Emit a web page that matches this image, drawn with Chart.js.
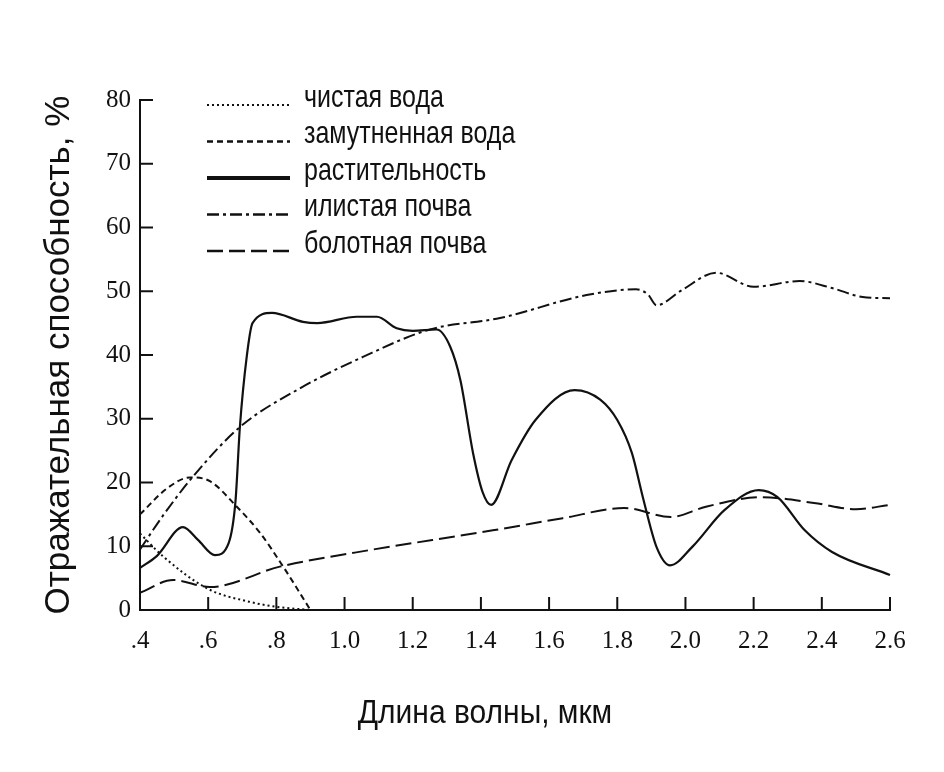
<!DOCTYPE html>
<html>
<head>
<meta charset="utf-8">
<script src="https://cdn.jsdelivr.net/npm/chart.js@4.4.1/dist/chart.umd.min.js"></script>
<style>
html,body{margin:0;padding:0;background:#fff;}
#wrap{width:944px;height:772px;position:relative;}
</style>
</head>
<body>
<div id="wrap"><canvas id="c" width="944" height="772"></canvas></div>
<script>
// ---- data ----
const xTicks = [0.4,0.6,0.8,1.0,1.2,1.4,1.6,1.8,2.0,2.2,2.4,2.6];
const xTickLabels = ['.4','.6','.8','1.0','1.2','1.4','1.6','1.8','2.0','2.2','2.4','2.6'];
const yTicks = [0,10,20,30,40,50,60,70,80];

const seriesNames = ['чистая вода','замутненная вода','растительность','илистая почва','болотная почва'];

const cleanWaterX = [0.40,0.47,0.60,0.72,0.80,0.90];
const cleanWaterY = [12.0,8.3,3.3,1.3,0.5,0.0];

const turbidWaterX = [0.40,0.48,0.547,0.605,0.684,0.752,0.82,0.90];
const turbidWaterY = [15.0,19.1,20.8,20.2,16.2,12.1,6.8,0.0];

const vegetationX = [0.40,0.45,0.526,0.57,0.62,0.66,0.68,0.693,0.713,0.73,0.787,0.878,0.92,1.036,1.095,1.153,1.20,1.27,1.31,1.34,1.377,1.405,1.43,1.49,1.56,1.675,1.75,1.80,1.843,1.875,1.915,1.955,2.02,2.115,2.215,2.27,2.35,2.43,2.60];
const vegetationY = [6.6,8.5,13.0,11.0,8.6,10.5,17.0,28.7,39.7,45.0,46.6,45.2,45.0,46.0,46.0,44.2,43.8,44.0,41.3,36.0,24.6,18.5,16.5,23.5,29.8,34.5,33.0,29.8,24.6,17.7,9.9,7.0,9.9,15.7,18.8,17.7,12.5,9.1,5.5];

const siltSoilX = [0.40,0.47,0.555,0.693,0.86,1.054,1.25,1.456,1.71,1.855,1.89,1.915,1.99,2.09,2.20,2.335,2.43,2.52,2.60];
const siltSoilY = [9.5,15.0,20.9,28.7,34.5,39.7,44.0,45.8,49.4,50.3,49.5,47.8,50.2,52.9,50.7,51.6,50.5,49.1,48.9];

const swampSoilX = [0.40,0.497,0.605,0.81,1.03,1.435,1.64,1.82,1.957,2.06,2.22,2.377,2.50,2.60];
const swampSoilY = [2.7,4.7,3.6,6.8,9.0,12.5,14.4,16.0,14.6,16.2,17.7,16.8,15.8,16.5];

const xTitle = 'Длина волны, мкм';
const yTitle = 'Отражательная способность, %';

// ---- build ----
function pts(xs, ys){ return xs.map((x,i)=>({x:x,y:ys[i]})); }
const styles = [
  {dash:[2,3], width:2, legendWidth:2},
  {dash:[6,4], width:2, legendWidth:2.5},
  {dash:[], width:2.2, legendWidth:4},
  {dash:[12,4,3,4], width:2, legendWidth:2.5},
  {dash:[16,6], width:2, legendWidth:2.5}
];
const dataPairs = [[cleanWaterX,cleanWaterY],[turbidWaterX,turbidWaterY],[vegetationX,vegetationY],[siltSoilX,siltSoilY],[swampSoilX,swampSoilY]];
const datasets = dataPairs.map((p,i)=>({
  label: seriesNames[i],
  data: pts(p[0],p[1]),
  borderColor:'#111',
  borderWidth: styles[i].width,
  borderDash: styles[i].dash,
  pointRadius:0,
  fill:false,
  cubicInterpolationMode:'monotone',
  clip:false
}));

const insideTicks = {
  id:'insideTicks',
  afterDraw(chart){
    const ctx = chart.ctx, xs = chart.scales.x, ys = chart.scales.y;
    ctx.save();
    ctx.strokeStyle='#111'; ctx.lineWidth=2; ctx.setLineDash([]);
    xTicks.forEach(v=>{
      const px = xs.getPixelForValue(v);
      ctx.beginPath(); ctx.moveTo(px, ys.bottom); ctx.lineTo(px, ys.bottom-13); ctx.stroke();
    });
    yTicks.forEach(v=>{
      const py = ys.getPixelForValue(v);
      ctx.beginPath(); ctx.moveTo(xs.left, py); ctx.lineTo(xs.left+13, py); ctx.stroke();
    });
    ctx.restore();
  }
};

const customLegend = {
  id:'customLegend',
  afterDraw(chart){
    const ctx = chart.ctx;
    ctx.save();
    ctx.fillStyle='#111';
    ctx.font = '25px "Liberation Sans", Arial, sans-serif';
    ctx.textBaseline='middle';
    ctx.textAlign='left';
    chart.data.datasets.forEach((ds,i)=>{
      const ty = 98 + i*36.5;
      const ly = ty + 7;
      ctx.strokeStyle='#111';
      ctx.lineWidth = styles[i].legendWidth;
      ctx.setLineDash(styles[i].dash);
      ctx.beginPath(); ctx.moveTo(207, ly); ctx.lineTo(290, ly); ctx.stroke();
      ctx.setLineDash([]);
      ctx.save();
      ctx.translate(304, ty);
      ctx.scale(1, 1.28);
      ctx.fillText(ds.label, 0, 0);
      ctx.restore();
    });
    // x axis title
    ctx.save();
    ctx.font = '30px "Liberation Sans", Arial, sans-serif';
    ctx.textAlign='center';
    ctx.textBaseline='middle';
    ctx.translate(485, 714);
    ctx.scale(1, 1.12);
    ctx.fillText(xTitle, 0, 0);
    ctx.restore();
    ctx.restore();
  }
};

new Chart(document.getElementById('c'), {
  type:'line',
  data:{datasets:datasets},
  options:{
    responsive:false,
    animation:false,
    layout:{padding:{left:38, right:54, top:100, bottom:40}},
    plugins:{legend:{display:false}, tooltip:{enabled:false}},
    scales:{
      x:{
        type:'linear', min:0.4, max:2.6,
        afterBuildTicks(s){ s.ticks = xTicks.map(v=>({value:v})); },
        afterFit(s){ s.height = 122; },
        grid:{display:false, drawTicks:false},
        border:{display:true, color:'#111', width:2},
        ticks:{
          color:'#111', padding:16, maxRotation:0, autoSkip:false,
          font:{family:'"Liberation Serif", "Times New Roman", serif', size:25},
          callback(v){ const i = xTicks.findIndex(t=>Math.abs(t-v)<1e-6); return i>=0 ? xTickLabels[i] : ''; }
        },
        title:{display:false}
      },
      y:{
        type:'linear', min:0, max:80,
        afterBuildTicks(s){ s.ticks = yTicks.map(v=>({value:v})); },
        afterFit(s){ s.width = 102; },
        grid:{display:false, drawTicks:false},
        border:{display:true, color:'#111', width:2},
        ticks:{
          color:'#111', padding:9,
          font:{family:'"Liberation Serif", "Times New Roman", serif', size:25}
        },
        title:{display:true, text:yTitle, color:'#111', padding:0,
          font:{family:'"Liberation Sans", Arial, sans-serif', size:35}}
      }
    }
  },
  plugins:[insideTicks, customLegend]
});
</script>
</body>
</html>
